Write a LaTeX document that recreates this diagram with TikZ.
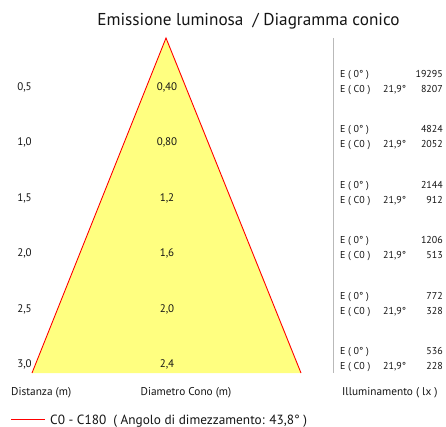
\documentclass[tikz,border=0pt]{standalone}
\usepackage{fontspec}
\setmainfont{PT Sans}
\definecolor{conefill}{RGB}{255,255,128}
\definecolor{coneedge}{RGB}{255,0,0}
\definecolor{sepgray}{RGB}{185,185,185}
\definecolor{txt}{RGB}{20,20,20}
\begin{document}
\begin{tikzpicture}[x=1pt,y=-1pt,
  lbl/.style={font=\fontsize{10}{12}\selectfont, text=txt, inner sep=0pt, anchor=base},
  lblw/.style={lbl, anchor=base west},
  lble/.style={lbl, anchor=base east},
  biglbl/.style={lbl, font=\fontsize{11}{13}\selectfont},
  bottomlbl/.style={lbl, font=\fontsize{11.3}{13}\selectfont},
  titlestyle/.style={font=\fontsize{17.2}{20}\selectfont, text=txt, inner sep=0pt, anchor=base},
  legendstyle/.style={font=\fontsize{13.3}{16}\selectfont, text=txt, inner sep=0pt, anchor=base west},
  edge/.style={draw=coneedge, line width=0.9pt},
  sepline/.style={draw=sepgray, line width=0.8pt}]
\useasboundingbox (0,0) rectangle (446,427);
% cone
\coordinate (apex) at (166,38);
\coordinate (bl) at (32,373);
\coordinate (br) at (301,373);
\fill[conefill] (apex) -- (bl) -- (br) -- cycle;
\draw[edge] (bl) -- (apex) -- (br);
% separator
\coordinate (vtop) at (333,38);
\coordinate (vbot) at (333,373);
\draw[sepline] (vtop) -- (vbot);
% title
\node[titlestyle] (title) at (248.5,26) {Emissione luminosa\ \ / Diagramma conico};
% rows
\foreach \k/\d/\c/\a/\b in {0/{0,5}/{0,40}/19295/8207, 1/{1,0}/{0,80}/4824/2052, 2/{1,5}/{1,2}/2144/912, 3/{2,0}/{1,6}/1206/513, 4/{2,5}/{2,0}/772/328, 5/{3,0}/{2,4}/536/228}{
  \pgfmathsetmacro{\yy}{90.5+55.4*\k}
  \pgfmathsetmacro{\ya}{77.5+55.4*\k}
  \pgfmathsetmacro{\yb}{92.5+55.4*\k}
  \node[biglbl] (dist\k) at (24.5,\yy) {\d};
  \node[biglbl] (diam\k) at (167,\yy) {\c};
  \node[lblw] (ez\k) at (340,\ya) {E ( 0° )};
  \node[lble] (va\k) at (443,\ya) {\a};
  \node[lblw] (ec\k) at (340,\yb) {E ( C0 )};
  \node[lblw] (ang\k) at (383,\yb) {21,9°};
  \node[lble] (vb\k) at (443,\yb) {\b};
}
% bottom labels
\node[bottomlbl, anchor=base west] (distlbl) at (11,395.5) {Distanza (m)};
\node[bottomlbl] (diamlbl) at (186,395.5) {Diametro Cono (m)};
\node[bottomlbl, anchor=base west] (illlbl) at (342,395.5) {Illuminamento ( lx )};
% legend
\coordinate (leg1) at (11,419.5);
\coordinate (leg2) at (45,419.5);
\draw[edge, line width=0.7pt] (leg1) -- (leg2);
\node[legendstyle] (legtxt) at (50,424) {C0 - C180\ \ ( Angolo di dimezzamento: 43,8° )};
\end{tikzpicture}
\end{document}
